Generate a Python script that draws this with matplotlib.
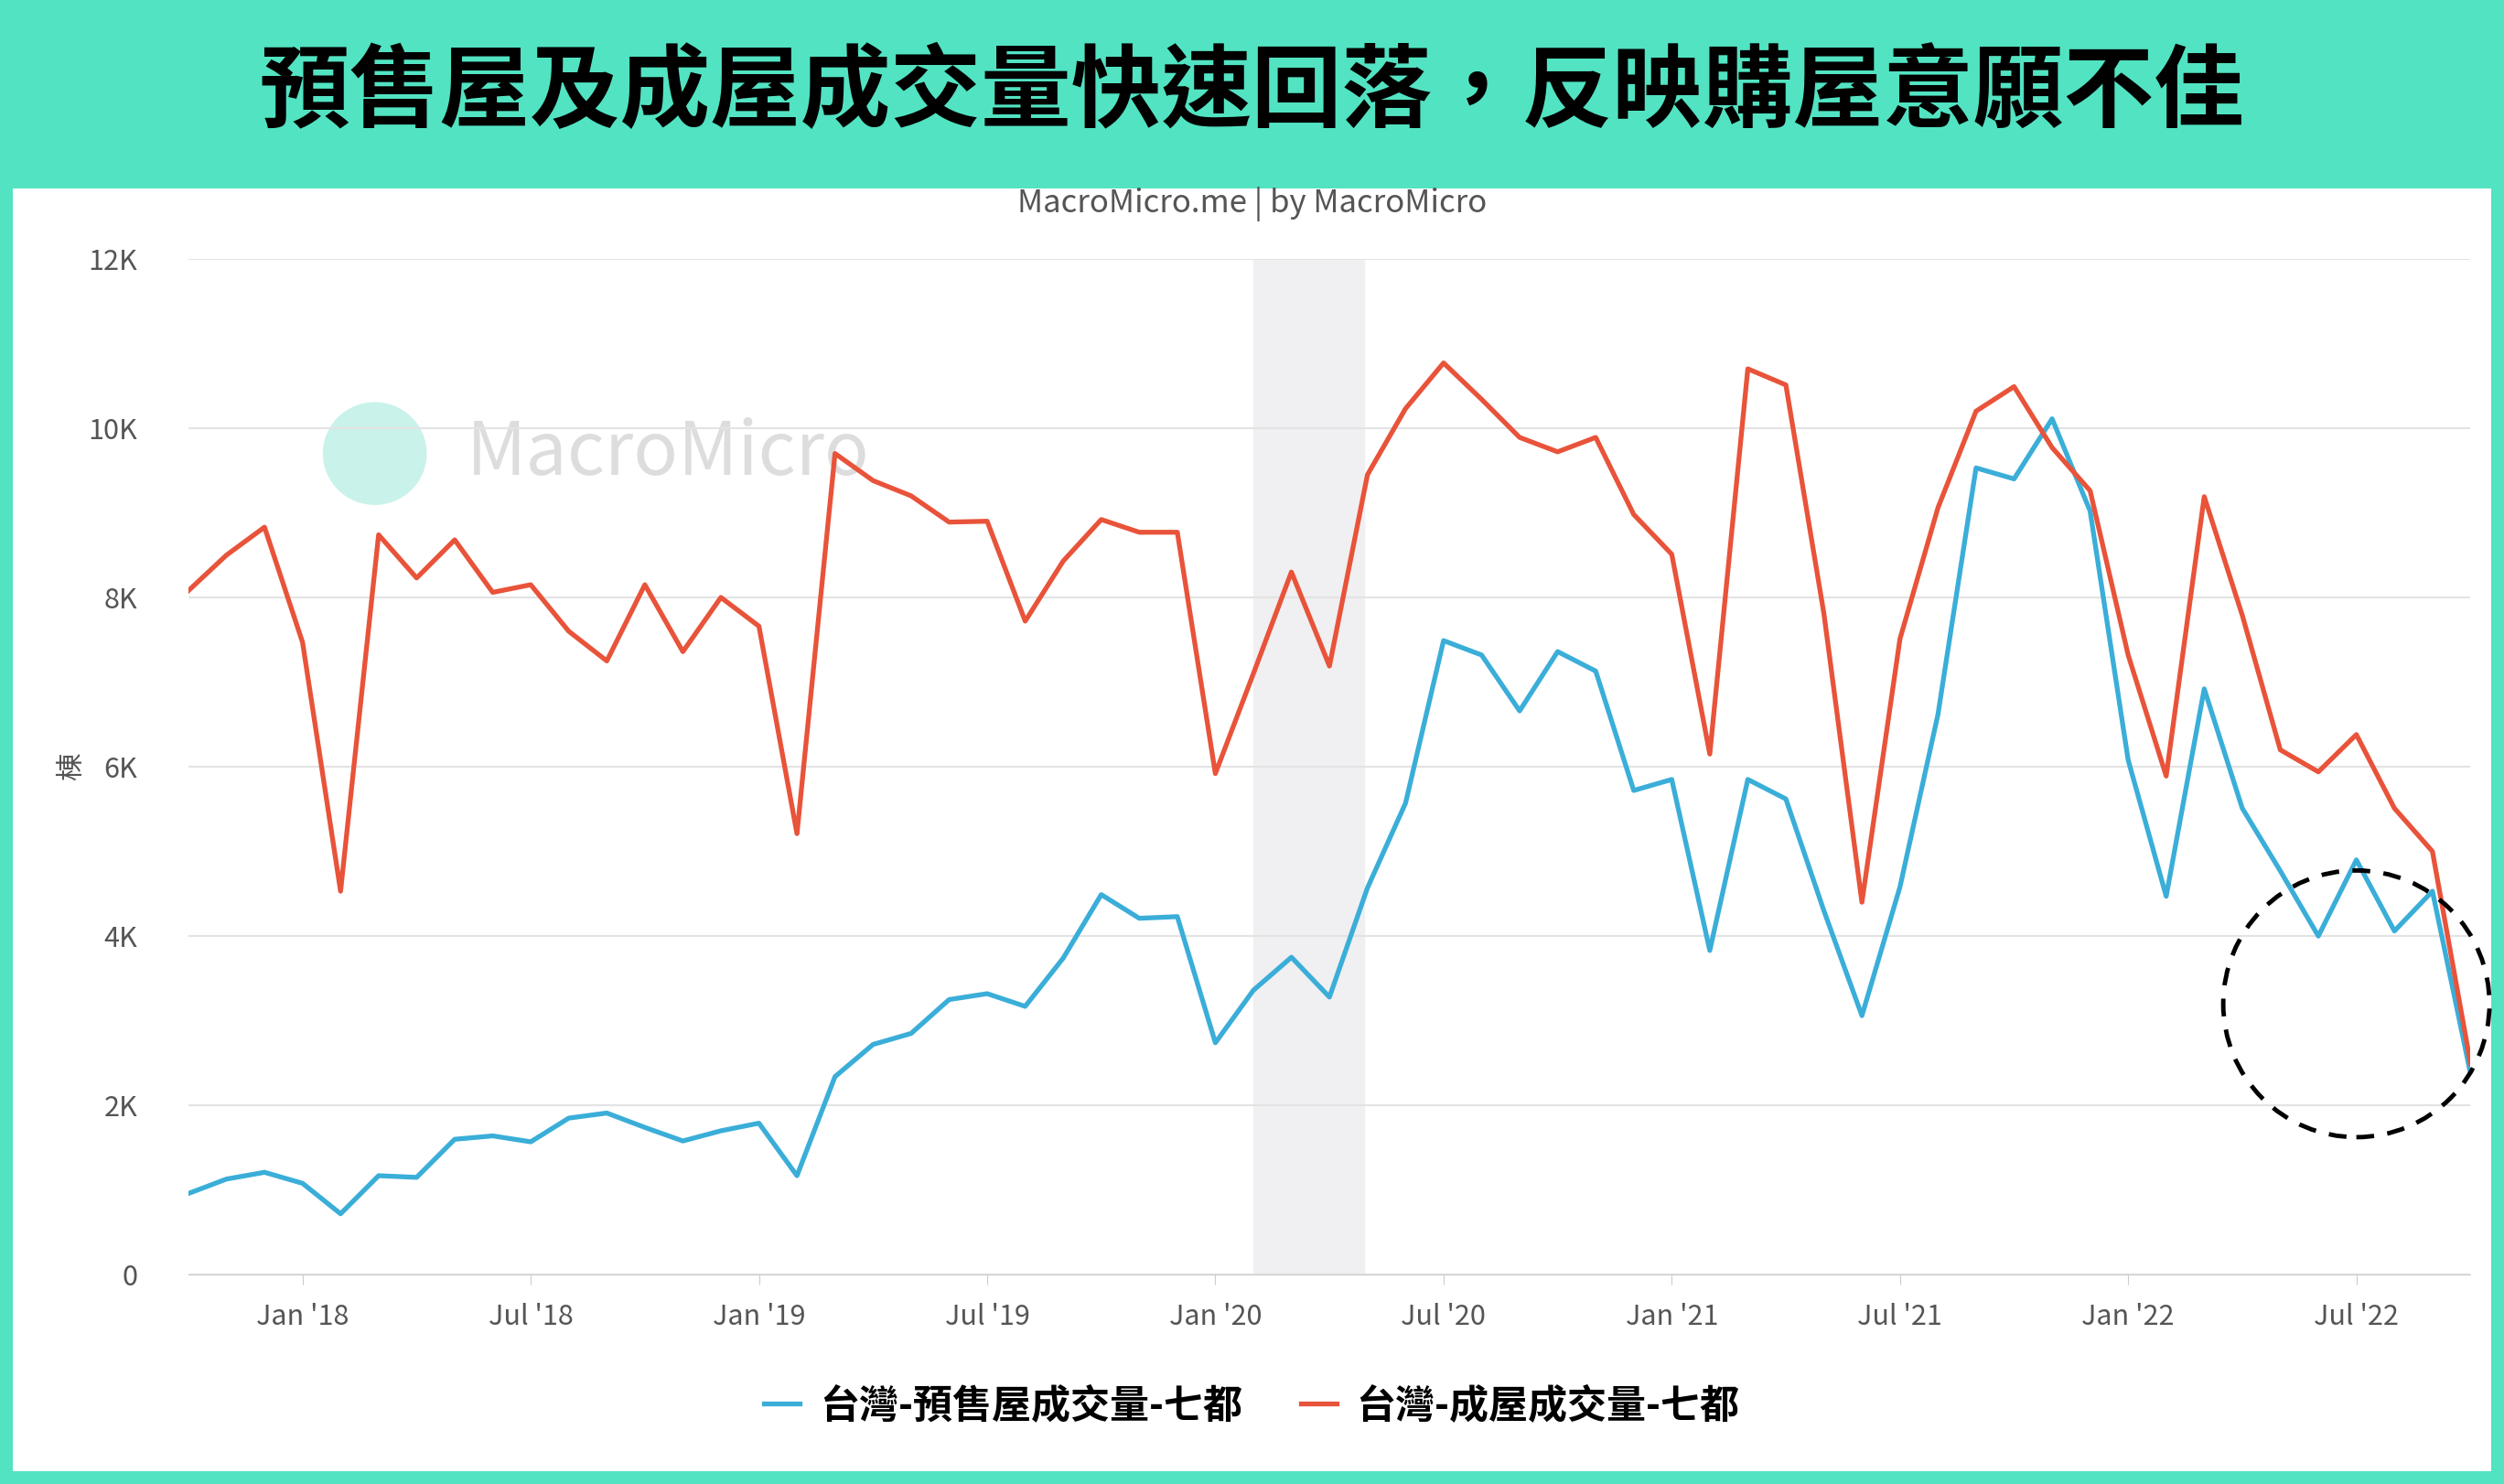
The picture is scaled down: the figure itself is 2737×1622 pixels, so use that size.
import numpy as np
import matplotlib.pyplot as plt
from matplotlib.patches import Rectangle, Ellipse

plt.rcParams['font.family'] = ['Noto Sans CJK TC', 'DejaVu Sans']

# monthly, Oct 2017 .. Oct 2022 (thousand units)
presale = [0.96, 1.13, 1.21, 1.08, 0.72, 1.17, 1.15, 1.60, 1.64, 1.57, 1.85, 1.91, 1.74,
           1.58, 1.70, 1.79, 1.17, 2.34, 2.72, 2.85, 3.25, 3.32, 3.17, 3.74, 4.49, 4.21,
           4.23, 2.74, 3.36, 3.75, 3.28, 4.57, 5.57, 7.49, 7.32, 6.66, 7.36, 7.13, 5.72,
           5.85, 3.83, 5.85, 5.62, 4.30, 3.06, 4.58, 6.62, 9.53, 9.40, 10.11, 9.02, 6.08,
           4.47, 6.92, 5.51, 4.77, 4.00, 4.90, 4.06, 4.53, 2.38]
existing = [8.08, 8.50, 8.83, 7.47, 4.53, 8.74, 8.23, 8.68, 8.06, 8.15, 7.60, 7.25, 8.15,
            7.36, 8.00, 7.66, 5.21, 9.70, 9.38, 9.20, 8.89, 8.90, 7.72, 8.43, 8.92, 8.77,
            8.77, 5.92, 7.10, 8.30, 7.19, 9.45, 10.23, 10.77, 10.34, 9.89, 9.72, 9.89, 8.98,
            8.51, 6.15, 10.70, 10.51, 7.81, 4.40, 7.51, 9.06, 10.20, 10.49, 9.77, 9.26, 7.32,
            5.89, 9.19, 7.79, 6.20, 5.94, 6.38, 5.51, 5.00, 2.50]
tick_labels = ["Jan '18", "Jul '18", "Jan '19", "Jul '19", "Jan '20", "Jul '20",
               "Jan '21", "Jul '21", "Jan '22", "Jul '22"]
x = np.arange(len(presale))

fig = plt.figure(figsize=(27.37, 16.22), dpi=100, facecolor='#52e3c2')
# white panel
bg = fig.add_axes([8/1568, 8/929, 1552/1568, 803/929], zorder=0)
bg.set_axis_off()
bg.add_patch(Rectangle((0, 0), 1, 1, transform=bg.transAxes, facecolor='white', edgecolor='none'))

fig.text(0.5, 1 - 58/929, '預售屋及成屋成交量快速回落，反映購屋意願不佳', ha='center', va='center',
         fontsize=71, fontweight='bold', color='black')
fig.text(0.5, 1 - 128/929, 'MacroMicro.me | by MacroMicro', ha='center', va='center',
         fontsize=25, color='#555555')

ax = fig.add_axes([118/1568, 1 - 798/929, (1547 - 118)/1568, (798 - 162)/929], zorder=2)
ax.patch.set_alpha(0)
ax.axvspan(28, 30.9, color='#f0eff1', zorder=0)
ax.plot(x, presale, color='#3aaed8', lw=3.8, label='台灣-預售屋成交量-七都')
ax.plot(x, existing, color='#e8533a', lw=3.8, label='台灣-成屋成交量-七都')
ax.set_xlim(0, 60)
ax.set_ylim(0, 12)
ax.set_yticks(range(0, 13, 2))
ax.set_yticklabels(['0', '2K', '4K', '6K', '8K', '10K', '12K'])
ax.set_xticks(np.arange(3, 60, 6))
ax.set_xticklabels(tick_labels)
ax.grid(axis='y', color='#e3e3e3', lw=1.5)
for s in ['top', 'right', 'left']:
    ax.spines[s].set_visible(False)
ax.spines['bottom'].set_color('#cccccc')
ax.tick_params(axis='y', length=0, pad=40, labelsize=22, colors='#555555')
ax.tick_params(axis='x', length=8, color='#cccccc', labelsize=22, colors='#555555', pad=14)
ax.set_ylabel('棟', fontsize=22, color='#555555', labelpad=2)

# watermark
ax.add_patch(Ellipse((4.9, 9.7), 2.7, 1.2, color='#c9f2ea', zorder=1))
ax.text(7.3, 9.7, 'MacroMicro', fontsize=58, color='#dddddd', va='center', zorder=1)

# highlight circle
ax.add_patch(Ellipse((57, 3.2), 7.0, 3.15, fill=False, ls=(0, (4, 3)), lw=3.5, color='black',
                     clip_on=False, zorder=5))

fig.legend(loc='center', bbox_to_anchor=(0.5, 1 - 880/929), ncol=2, frameon=False,
           prop={'size': 31, 'weight': 'bold'}, handlelength=0.9, handletextpad=0.5,
           columnspacing=1.5)

fig.savefig('out.png', dpi=100, facecolor=fig.get_facecolor())
